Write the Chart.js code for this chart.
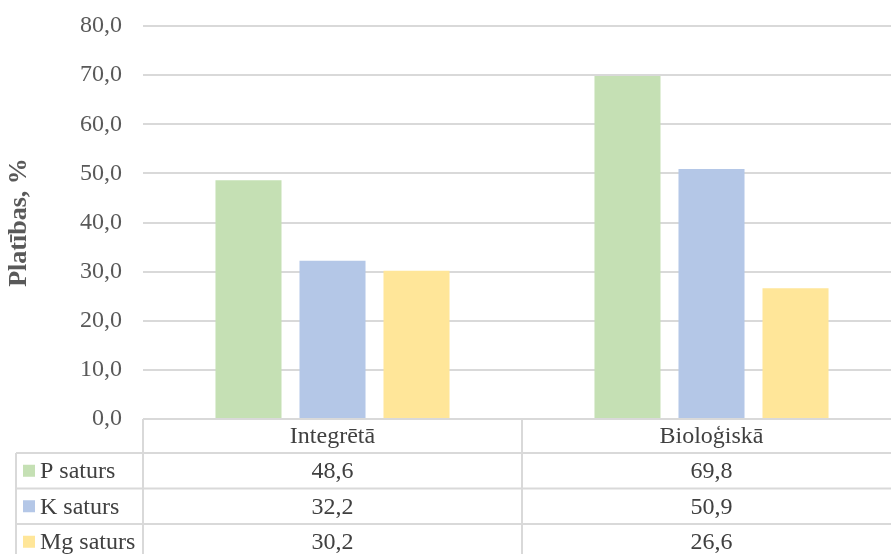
<!DOCTYPE html>
<html>
<head>
<meta charset="utf-8">
<script src="https://cdn.jsdelivr.net/npm/chart.js@4.4.1/dist/chart.umd.min.js"></script>
<style>
  html, body { margin: 0; padding: 0; background: #ffffff; overflow: hidden; }
  #wrap { position: relative; width: 901px; height: 554px; }
</style>
</head>
<body>
<div id="wrap"><canvas id="chart"></canvas></div>
<script>
// Land-use categories and nutrient content shares (% of area)
const categories = ['Integrētā', 'Bioloģiskā'];
const seriesNames = ['P saturs', 'K saturs', 'Mg saturs'];
const pValues = [48.6, 69.8];
const kValues = [32.2, 50.9];
const mgValues = [30.2, 26.6];
const yTicks = [0, 10, 20, 30, 40, 50, 60, 70, 80];

const colors = ['#c5e0b4', '#b4c7e7', '#ffe699'];
const gridColor = '#d9d9d9';
const textColor = '#595959';
const fontFamily = '"Liberation Serif", "Times New Roman", serif';

const fmt = v => v.toFixed(1).replace('.', ',');
const seriesValues = [pValues, kValues, mgValues];

// Data table under the plot, laid out from the x scale
const dataTable = {
  id: 'dataTable',
  afterDraw(chart) {
    const ctx = chart.ctx;
    const x = chart.scales.x;
    const area = chart.chartArea;
    const top = area.bottom;
    const headerH = 34;
    const rowH = 35.5;
    const legendLeft = 16;
    const right = area.right;
    const n = categories.length;
    const step = (right - area.left) / n;

    ctx.save();
    ctx.strokeStyle = gridColor;
    ctx.lineWidth = 2;

    // horizontal lines
    ctx.beginPath();
    ctx.moveTo(area.left, top); ctx.lineTo(right, top);
    for (let r = 0; r <= seriesNames.length; r++) {
      const y = top + headerH + r * rowH;
      ctx.moveTo(legendLeft, y); ctx.lineTo(right, y);
    }
    // vertical lines
    const bottom = top + headerH + seriesNames.length * rowH;
    ctx.moveTo(legendLeft, top + headerH); ctx.lineTo(legendLeft, bottom);
    for (let c = 0; c <= n; c++) {
      const vx = area.left + c * step;
      ctx.moveTo(vx, top); ctx.lineTo(vx, bottom);
    }
    ctx.stroke();

    ctx.fillStyle = '#404040';
    ctx.font = '24px ' + fontFamily;
    ctx.textAlign = 'center';
    ctx.textBaseline = 'middle';
    categories.forEach((cat, i) => {
      const cx = x.getPixelForValue(i);
      ctx.fillText(cat, cx, top + headerH / 2 + 1);
      seriesValues.forEach((vals, r) => {
        ctx.fillText(fmt(vals[i]), cx, top + headerH + r * rowH + rowH / 2 + 1);
      });
    });

    // legend keys and series names
    ctx.textAlign = 'left';
    seriesNames.forEach((name, r) => {
      const cy = top + headerH + r * rowH + rowH / 2;
      ctx.fillStyle = colors[r];
      ctx.fillRect(23, cy - 6, 12, 12);
      ctx.fillStyle = '#404040';
      ctx.fillText(name, 40, cy + 1);
    });
    ctx.restore();
  }
};

new Chart(document.getElementById('chart'), {
  type: 'bar',
  data: {
    labels: categories,
    datasets: seriesNames.map((name, i) => ({
      label: name,
      data: seriesValues[i],
      backgroundColor: colors[i],
      borderWidth: 0,
      categoryPercentage: 0.665,
      barPercentage: 0.786
    }))
  },
  options: {
    responsive: true,
    maintainAspectRatio: false,
    animation: false,
    events: [],
    layout: { padding: { top: 0, bottom: 135, left: 0, right: 0 } },
    plugins: {
      legend: { display: false },
      tooltip: { enabled: false }
    },
    scales: {
      x: {
        display: false
      },
      y: {
        min: 0,
        max: 80,
        afterBuildTicks: s => { s.ticks = yTicks.map(v => ({ value: v })); },
        afterFit: s => {
          s.width = 143;
          s.paddingTop = 26;
          s.paddingBottom = 0;
        },
        border: { display: false },
        grid: { color: gridColor, lineWidth: 2, drawTicks: false },
        ticks: {
          padding: 21,
          color: textColor,
          font: { family: fontFamily, size: 24 },
          callback: v => fmt(v)
        },
        title: {
          display: true,
          text: 'Platības, %',
          color: textColor,
          font: { family: fontFamily, size: 26, weight: 'bold' },
          padding: { top: 4, bottom: 0 }
        }
      }
    }
  },
  plugins: [dataTable]
});
</script>
</body>
</html>
